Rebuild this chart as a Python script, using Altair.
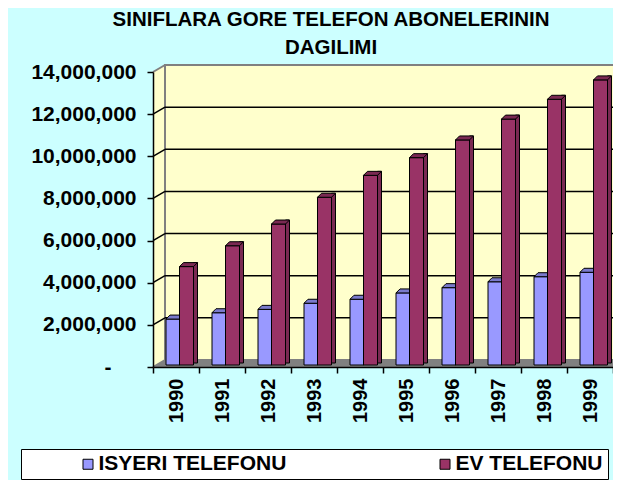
import altair as alt
import pandas as pd

# ---- data ----
years = ["1990", "1991", "1992", "1993", "1994", "1995", "1996", "1997", "1998", "1999"]
isyeri = [2180000, 2480000, 2640000, 2930000, 3120000, 3420000, 3670000, 3950000, 4190000, 4400000]
ev = [4670000, 5660000, 6690000, 7960000, 9000000, 9840000, 10680000, 11670000, 12610000, 13530000]
series = ["ISYERI TELEFONU", "EV TELEFONU"]
y_ticks = [0, 2000000, 4000000, 6000000, 8000000, 10000000, 12000000, 14000000]
title_lines = ["SINIFLARA GORE TELEFON ABONELERININ", "DAGILIMI"]

# ---- styles ----
FONT = "Liberation Sans"
BG = "#CCFFFF"
WALL = "#FFFFCC"
FLOOR = "#808080"
EDGE = "#808080"
front_colors = ["#9999FF", "#993366"]
side_colors = ["#4D4D80", "#4D1A33"]
top_colors = ["#7A7ACC", "#7A2952"]
DX, DY = 12, 7          # wall depth
BW = 14                 # bar width
BDX, BDY = 4, 4         # bar depth

rows = []
for y, a, b in zip(years, isyeri, ev):
    rows.append({"year": y, "series": series[0], "value": a, "base": 0})
    rows.append({"year": y, "series": series[1], "value": b, "base": 0})
df = pd.DataFrame(rows)

frame = pd.DataFrame({"first": [years[0]], "last": [years[-1]],
                      "top": [y_ticks[-1]], "bottom": [y_ticks[0]]})
grid = pd.DataFrame({"v": y_ticks[1:-1], "first": years[0], "last": years[-1]})
edges = pd.DataFrame({"v": [y_ticks[0], y_ticks[-1]], "first": years[0]})

xscale = alt.Scale(domain=years, paddingInner=0, paddingOuter=0)
yscale = alt.Scale(domain=[y_ticks[0], y_ticks[-1]], nice=False)

xaxis = alt.Axis(title=None, tickBand="extent", labelAngle=-90, labelFont=FONT, labelFontSize=20,
                 labelFontWeight="bold", labelColor="black", labelPadding=5, tickSize=6,
                 tickColor="black", tickWidth=1.5, domainColor="black", domainWidth=1.5,
                 grid=False, zindex=1, labelOverlap=False)
yaxis = alt.Axis(title=None, values=y_ticks,
                 labelExpr="datum.value == 0 ? '-' : format(datum.value, ',')",
                 labelFont=FONT, labelFontSize=21, labelFontWeight="bold", labelColor="black",
                 labelPadding={"condition": {"test": "datum.value == 0", "value": 36}, "value": 11},
                 tickSize=6, tickColor="black", tickWidth=1.5,
                 domainColor="black", domainWidth=1.5, grid=False, zindex=1, labelOverlap=False)


def X(field, pos=None):
    if pos is None:
        return alt.X(field, scale=xscale, axis=xaxis)
    return alt.X(field, bandPosition=pos, scale=xscale, axis=xaxis)


def Y(field):
    return alt.Y(field, scale=yscale, axis=yaxis)


# left wall
left_wall = alt.Chart(frame).mark_rect(fill=WALL, strokeWidth=0, yOffset=-DY, x2Offset=DX).encode(
    x=X("first:N", 0), x2=alt.X2("first", bandPosition=0),
    y=Y("top:Q"), y2="bottom:Q")

tri_a = "M 0 0 L 0 -7 L 12 -7 Z"
slant = "M 0 0 L 12 -7"

patch_top = alt.Chart(frame).mark_point(shape=tri_a, size=4, filled=True, fill=BG, strokeWidth=0, opacity=1).encode(
    x=X("first:N", 0), y=Y("top:Q"))

back_wall = alt.Chart(frame).mark_rect(fill=WALL, stroke=EDGE, strokeWidth=2,
                                       xOffset=DX, x2Offset=DX, yOffset=-DY, y2Offset=-DY).encode(
    x=X("first:N", 0), x2=alt.X2("last", bandPosition=1),
    y=Y("top:Q"), y2="bottom:Q")

back_grid = alt.Chart(grid).mark_rule(color="black", strokeWidth=1.5,
                                      xOffset=DX, x2Offset=DX, yOffset=-DY).encode(
    x=X("first:N", 0), x2=alt.X2("last", bandPosition=1),
    y=Y("v:Q"))

side_grid = alt.Chart(grid).mark_point(shape=slant, size=4, filled=False, stroke="black",
                                       strokeWidth=1.5, opacity=1).encode(
    x=X("first:N", 0), y=Y("v:Q"))

floor = alt.Chart(frame).mark_rect(fill=FLOOR, strokeWidth=0, yOffset=-DY, x2Offset=DX).encode(
    x=X("first:N", 0), x2=alt.X2("last", bandPosition=1),
    y=Y("bottom:Q"), y2="bottom:Q")

patch_floor_l = alt.Chart(frame).mark_point(shape=tri_a, size=4, filled=True, fill=WALL, strokeWidth=0, opacity=1).encode(
    x=X("first:N", 0), y=Y("bottom:Q"))

edge_lines = alt.Chart(edges).mark_point(shape=slant, size=4, filled=False, stroke=EDGE,
                                         strokeWidth=2, opacity=1).encode(
    x=X("first:N", 0), y=Y("v:Q"))

legend = alt.Legend(title=None, orient="none", legendX=21 - 153, legendY=449 - 72,
                    direction="horizontal", columns=2, symbolType="square", symbolSize=100,
                    symbolStrokeColor="black", symbolStrokeWidth=1, symbolOffset=52,
                    labelFont=FONT, labelFontSize=21, labelFontWeight="bold", labelColor="black",
                    labelOffset=0, labelLimit=500, columnPadding=96, padding=4.5,
                    fillColor="white", strokeColor="black")
color_scale = alt.Scale(domain=series, range=front_colors)
fill_side = alt.Scale(domain=series, range=side_colors)
fill_top = alt.Scale(domain=series, range=top_colors)


def front(s, xoff):
    return alt.Chart(df).transform_filter(alt.datum.series == s).mark_bar(
        width=BW, xOffset=xoff, yOffset=-2, y2Offset=-2, stroke="black", strokeWidth=1, opacity=1
    ).encode(
        x=X("year:N"), y=Y("value:Q"), y2="base:Q",
        color=alt.Color("series:N", scale=color_scale, legend=legend),
    )


def side(s, xoff):
    return alt.Chart(df).transform_filter(alt.datum.series == s).mark_bar(
        width=BDX, xOffset=xoff, yOffset=-2 - BDY, y2Offset=-4, stroke="black", strokeWidth=1, opacity=1
    ).encode(
        x=X("year:N"), y=Y("value:Q"), y2="base:Q",
        fill=alt.Fill("series:N", scale=fill_side, legend=None),
    )


top_path = "M 0 0 L 14 0 L 18 -4 L 4 -4 Z"


def top(s, xoff):
    return alt.Chart(df).transform_filter(alt.datum.series == s).mark_point(
        shape=top_path, size=4, filled=True, stroke="black", strokeWidth=1, opacity=1,
        xOffset=xoff, yOffset=-2
    ).encode(
        x=X("year:N"), y=Y("value:Q"),
        fill=alt.Fill("series:N", scale=fill_top, legend=None),
    )


chart = alt.layer(
    left_wall, patch_top, back_wall, back_grid, side_grid, floor, patch_floor_l,
    edge_lines,
    front(series[0], -3), top(series[0], -10),
    front(series[1], 10.5), side(series[1], 19.5), top(series[1], 3.5),
).properties(
    width=460, height=295,
    padding={"left": 145, "top": 64, "right": 0, "bottom": 113},
    autosize=alt.AutoSizeParams(type="none"),
    background=BG,
    title=alt.TitleParams(text=title_lines, font=FONT, fontSize=20.5, fontWeight="bold", color="black",
                          anchor="middle", frame="group", dx=-52, offset=3, lineHeight=28),
).configure_view(stroke=None)

chart.save("out.html", embed_options={"renderer": "svg", "actions": False})
